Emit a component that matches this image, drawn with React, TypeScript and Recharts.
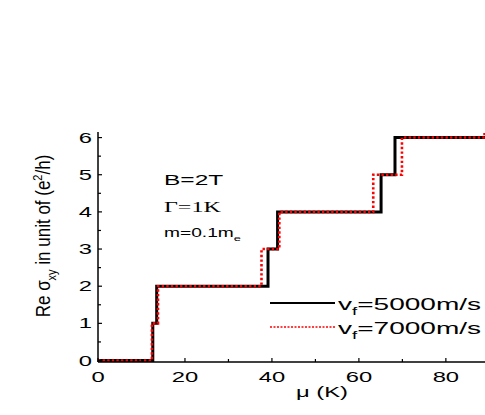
import React from 'react';
import { LineChart, Line, XAxis, YAxis, Legend } from 'recharts';

// step edges (mu in K, sigma_xy in e^2/h)
const vf5000Mu = [0, 12.6, 13.5, 39.1, 41.3, 65.1, 68.3, 89.5];
const vf5000Sigma = [0, 1, 2, 3, 4, 5, 6, 6];
const vf7000Mu = [0, 12.4, 13.8, 37.6, 41.7, 63.3, 69.9, 88.9, 90];
const vf7000Sigma = [0, 1, 2, 3, 4, 5, 6, 7, 7];

const muTicks = [0, 10, 20, 30, 40, 50, 60, 70, 80];
const sigmaTicks = [0, 0.5, 1, 1.5, 2, 2.5, 3, 3.5, 4, 4.5, 5, 5.5, 6];

const seriesNames = ['vf=5000m/s', 'vf=7000m/s'];

const zip = (xs: number[], ys: number[]) => xs.map((x, i) => ({ mu: x, sigma: ys[i] }));
const data5000 = zip(vf5000Mu, vf5000Sigma);
const data7000 = zip(vf7000Mu, vf7000Sigma);

const FONT = '"Liberation Sans", Arial, sans-serif';
const SX = 1.7; // the original figure is stretched sideways

const YTick = (props: any) => {
  const { x, y, payload } = props;
  const v = payload.value;
  const major = Number.isInteger(v);
  return (
    <g>
      <line x1={x} x2={x + (major ? 4 : 3)} y1={y} y2={y} stroke="#000" strokeWidth={1.2} />
      {major && (
        <text
          transform={`translate(${x - 6},${y + 5}) scale(${SX},1)`}
          textAnchor="end"
          fontSize={14}
          fontFamily={FONT}
          fill="#000"
        >
          {v}
        </text>
      )}
    </g>
  );
};

const XTick = (props: any) => {
  const { x, y, payload } = props;
  const v = payload.value;
  const major = v % 20 === 0;
  return (
    <g>
      <line x1={x} x2={x} y1={y} y2={y - (major ? 4 : 3)} stroke="#000" strokeWidth={1.2} />
      {major && (
        <text
          transform={`translate(${x},${y + 20}) scale(${SX},1)`}
          textAnchor="middle"
          fontSize={14}
          fontFamily={FONT}
          fill="#000"
        >
          {v}
        </text>
      )}
    </g>
  );
};

const TopTick = (props: any) => {
  const { x, y, payload } = props;
  const major = payload.value % 20 === 0;
  return <line x1={x} x2={x} y1={y} y2={y + (major ? 4 : 3)} stroke="#000" strokeWidth={1.2} />;
};

const renderLegend = (props: any) => {
  const payload = props.payload || [];
  return (
    <svg width={230} height={50} style={{ overflow: 'visible', display: 'block' }}>
      {payload.map((entry: any, i: number) => {
        const name: string = entry.value;
        const yy = 13 + i * 24;
        const dotted = i === 1;
        return (
          <g key={name}>
            <line
              x1={5}
              x2={70}
              y1={yy}
              y2={yy}
              stroke={entry.color}
              strokeWidth={dotted ? 1.6 : 2.2}
              strokeDasharray={dotted ? '2 1.5' : undefined}
            />
            <text
              transform={`translate(73,${yy + 7}) scale(${SX},1)`}
              fontSize={16.5}
              fontFamily={FONT}
              fill="#000"
            >
              {name[0]}
              <tspan dy={5} fontSize={11}>
                {name[1]}
              </tspan>
              <tspan dy={-5}>{name.slice(2)}</tspan>
            </text>
          </g>
        );
      })}
    </svg>
  );
};

export default function App() {
  return (
    <div style={{ position: 'absolute', left: 0, top: 0, width: 485, height: 415, background: '#fff' }}>
      <LineChart width={485} height={415} margin={{ top: 132, right: 0, bottom: 0, left: 0 }}>
        <XAxis
          dataKey="mu"
          type="number"
          domain={[0, 89]}
          allowDataOverflow
          ticks={muTicks}
          interval={0}
          height={53}
          tickSize={0}
          tickMargin={0}
          tick={<XTick />}
          tickLine={false}
          axisLine={{ stroke: '#000', strokeWidth: 1.5 }}
        />
        <XAxis
          xAxisId="top"
          orientation="top"
          dataKey="mu"
          type="number"
          domain={[0, 89]}
          allowDataOverflow
          ticks={muTicks}
          interval={0}
          height={0}
          tickSize={0}
          tickMargin={0}
          tick={<TopTick />}
          tickLine={false}
          axisLine={{ stroke: '#333', strokeWidth: 1.2 }}
        />
        <YAxis
          type="number"
          domain={[-0.04, 6.15]}
          allowDataOverflow
          ticks={sigmaTicks}
          interval={0}
          width={98}
          tickSize={0}
          tickMargin={0}
          tick={<YTick />}
          tickLine={false}
          axisLine={{ stroke: '#000', strokeWidth: 1.5 }}
        />
        <Legend
          content={renderLegend}
          layout="horizontal"
          align="center"
          verticalAlign="middle"
          wrapperStyle={{ position: 'absolute', left: 265, top: 290, width: 230, height: 50 }}
        />
        <Line
          data={data5000}
          dataKey="sigma"
          name={seriesNames[0]}
          type="stepAfter"
          stroke="#000"
          strokeWidth={3}
          dot={false}
          activeDot={false}
          isAnimationActive={false}
        />
        <Line
          data={data7000}
          dataKey="sigma"
          name={seriesNames[1]}
          type="stepAfter"
          stroke="#ff0000"
          strokeWidth={2.6}
          strokeDasharray="2.4 2.2"
          dot={false}
          activeDot={false}
          isAnimationActive={false}
        />
      </LineChart>
      <svg
        width={485}
        height={415}
        style={{ position: 'absolute', left: 0, top: 0, pointerEvents: 'none' }}
      >
        <text
          transform="translate(50,236) scale(1.2,1) rotate(-90)"
          textAnchor="middle"
          fontSize={17}
          fontFamily={FONT}
          fill="#000"
        >
          Re σ
          <tspan dy={5} fontSize={11}>
            xy
          </tspan>
          <tspan dy={-5}> in unit of (e</tspan>
          <tspan dy={-7} fontSize={11}>
            2
          </tspan>
          <tspan dy={7}>/h)</tspan>
        </text>
        <text
          transform={`translate(322,397) scale(${SX},1)`}
          textAnchor="middle"
          fontSize={14}
          fontFamily={FONT}
          fill="#000"
        >
          μ (K)
        </text>
        <text transform={`translate(164,185) scale(1.75,1)`} fontSize={14} fontFamily={FONT} fill="#000">
          B=2T
        </text>
        <text
          transform={`translate(164,212) scale(1.6,1)`}
          fontSize={15}
          fontFamily='"Liberation Serif", serif'
          fill="#000"
        >
          Γ=1K
        </text>
        <text transform={`translate(164,237) scale(1.6,1)`} fontSize={12} fontFamily={FONT} fill="#000">
          m=0.1m
          <tspan dy={4} fontSize={8}>
            e
          </tspan>
        </text>
      </svg>
    </div>
  );
}
